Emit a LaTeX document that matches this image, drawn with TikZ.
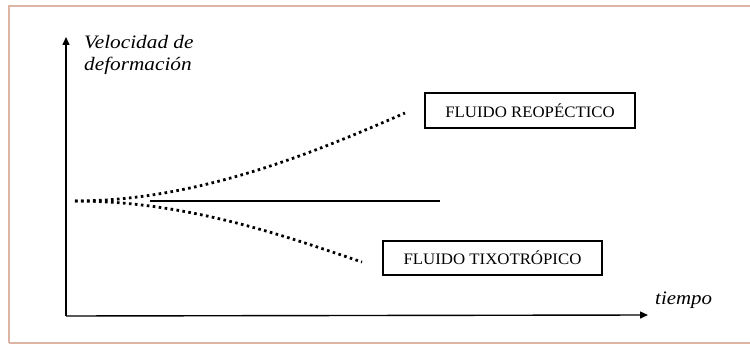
\documentclass[tikz,border=0pt]{standalone}
\usepackage{fontspec}
\setmainfont{Liberation Serif}
\usetikzlibrary{arrows.meta}
\begin{document}
\begin{tikzpicture}[x=1pt,y=-1pt,
  axis/.style={line width=1.4pt,-{Triangle[length=8pt,width=7pt]}},
  dotline/.style={line width=2.8pt,dash pattern=on 2.6pt off 3.4pt},
  fluidbox/.style={draw,line width=1.2pt,minimum width=210pt,minimum height=35pt,inner sep=0pt,font=\fontsize{16}{18}\selectfont},
  axlabel/.style={font=\fontsize{19}{21}\selectfont\itshape,anchor=west,inner sep=0pt}]
\useasboundingbox (0,0) rectangle (750,345);
\draw[color={rgb,255:red,221;green,181;blue,165},line width=2pt] (9,343) -- (9,6) -- (752,6);
\draw[color={rgb,255:red,221;green,181;blue,165},line width=2pt] (9,343) -- (752,343);
\coordinate (O) at (66,316);
\coordinate (Ytop) at (66,37);
\coordinate (Xend) at (648,315);
\draw[axis] (O) -- (Ytop);
\draw[axis] (O) -- (Xend);
\node[axlabel] (yl1) at (84,42) {\scalebox{1.12}[1]{Velocidad de}};
\node[axlabel] (yl2) at (84,66) {\scalebox{1.12}[1]{deformación}};
\node[axlabel] (xl) at (655,300) {\scalebox{1.1}[1]{tiempo}};
\coordinate (S) at (75,201);
\coordinate (E) at (440,201);
\coordinate (U) at (405,113);
\coordinate (L) at (362,262);
\draw[line width=1.4pt] (150,201) -- (E);
\draw[dotline] (S) .. controls (200,201) and (320,150) .. (U);
\draw[dotline] (S) .. controls (190,201) and (290,238) .. (L);
\node[fluidbox] (reo) at (530,110.5) {\scalebox{1.05}[1]{FLUIDO REOPÉCTICO}};
\node[fluidbox,minimum width=219pt,minimum height=34pt] (tixo) at (492.5,258) {\scalebox{1.05}[1]{FLUIDO TIXOTRÓPICO}};
\end{tikzpicture}
\end{document}
